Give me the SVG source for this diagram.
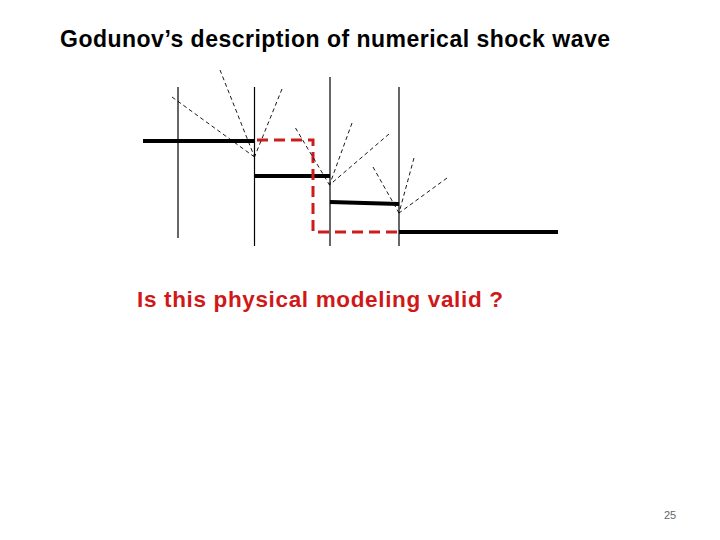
<svg xmlns="http://www.w3.org/2000/svg" width="720" height="540" viewBox="0 0 720 540">
<style>
.title{font-family:"Liberation Sans",Arial,sans-serif;font-weight:bold;font-size:23px;fill:#000}
.q{font-family:"Liberation Sans",Arial,sans-serif;font-weight:bold;font-size:22.5px;fill:#d01818}
.pg{font-family:"Liberation Sans",Arial,sans-serif;font-size:11px;fill:#666}
.cell{stroke:#000;stroke-width:1.2;fill:none}
.state{stroke:#000;stroke-width:4;fill:none}
.wave{stroke:#000;stroke-width:0.9;stroke-dasharray:4 3;fill:none}
.shock{stroke:#cc1c1c;stroke-width:3;stroke-dasharray:11 6;fill:none}
</style>
<rect width="720" height="540" fill="#fff"/>
<text class="title" x="60" y="47" textLength="550" lengthAdjust="spacing">Godunov’s description of numerical shock wave</text>
<g id="cells">
<line class="cell" x1="178" y1="87" x2="178" y2="238"/>
<line class="cell" x1="254.5" y1="87" x2="254.5" y2="246"/>
<line class="cell" x1="330" y1="77" x2="330" y2="246"/>
<line class="cell" x1="399" y1="87" x2="399" y2="246"/>
</g>
<g id="states">
<line class="state" x1="143" y1="141" x2="255" y2="141"/>
<line class="state" x1="255" y1="176" x2="330" y2="176"/>
<line class="state" x1="330" y1="202" x2="399" y2="204"/>
<line class="state" x1="399" y1="232" x2="558" y2="232"/>
</g>
<g id="exact-shock">
<polyline class="shock" points="257,140 313,140 313,232 399,232"/>
</g>
<g id="connectors">
<line class="wave" x1="172" y1="97" x2="254.5" y2="157"/>
<line class="wave" x1="220" y1="70" x2="254.5" y2="157"/>
<line class="wave" x1="282" y1="89" x2="254.5" y2="157"/>
<line class="wave" x1="295.5" y1="128" x2="329.5" y2="185"/>
<line class="wave" x1="352" y1="123" x2="329.5" y2="185"/>
<line class="wave" x1="389" y1="134" x2="329.5" y2="185"/>
<line class="wave" x1="373" y1="167" x2="399" y2="213"/>
<line class="wave" x1="414" y1="158" x2="399" y2="213"/>
<line class="wave" x1="447" y1="178" x2="399" y2="213"/>
</g>
<text class="q" x="137" y="307" textLength="366" lengthAdjust="spacing">Is this physical modeling valid ?</text>
<text class="pg" x="664" y="519">25</text>
</svg>
